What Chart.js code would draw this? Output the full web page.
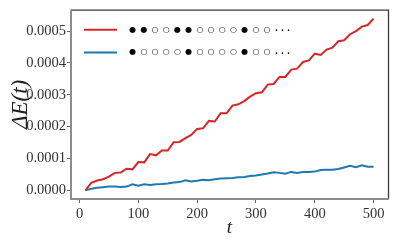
<!DOCTYPE html>
<html>
<head>
<meta charset="utf-8">
<script src="https://cdn.jsdelivr.net/npm/chart.js@4/dist/chart.umd.min.js"></script>
<style>
html,body{margin:0;padding:0;background:#fff;}
#wrap{width:395px;height:243px;}
</style>
</head>
<body>
<div id="wrap"><canvas id="c" width="395" height="243"></canvas></div>
<script>
const tValues = [10,20,30,40,50,60,70,80,90,100,110,120,130,140,150,160,170,180,190,200,
  210,220,230,240,250,260,270,280,290,300,310,320,330,340,350,360,370,380,390,400,
  410,420,430,440,450,460,470,480,490,500];
const redValues = [0,2.4e-5,3.1e-5,3.5e-5,4.3e-5,5.5e-5,5.6e-5,6.8e-5,6.6e-5,8.9e-5,
  8.8e-5,1.14e-4,1.10e-4,1.25e-4,1.25e-4,1.51e-4,1.52e-4,1.64e-4,1.74e-4,1.93e-4,
  1.95e-4,2.18e-4,2.16e-4,2.42e-4,2.42e-4,2.66e-4,2.70e-4,2.80e-4,2.94e-4,3.05e-4,
  3.08e-4,3.32e-4,3.34e-4,3.56e-4,3.56e-4,3.79e-4,3.82e-4,4.03e-4,4.08e-4,4.29e-4,
  4.25e-4,4.42e-4,4.48e-4,4.68e-4,4.71e-4,4.90e-4,5.00e-4,5.14e-4,5.19e-4,5.39e-4];
const blueValues = [0,0.5e-5,0.8e-5,1.0e-5,1.2e-5,1.2e-5,1.1e-5,1.2e-5,1.9e-5,1.5e-5,
  1.9e-5,1.7e-5,1.9e-5,2.0e-5,2.2e-5,2.5e-5,2.6e-5,3.2e-5,2.8e-5,3.0e-5,
  3.3e-5,3.2e-5,3.5e-5,3.7e-5,3.8e-5,3.9e-5,4.1e-5,4.2e-5,4.5e-5,4.7e-5,
  5.0e-5,5.3e-5,5.7e-5,5.5e-5,5.2e-5,5.8e-5,5.5e-5,5.8e-5,5.8e-5,5.9e-5,
  6.4e-5,6.5e-5,6.5e-5,6.7e-5,7.2e-5,7.7e-5,7.3e-5,7.9e-5,7.4e-5,7.4e-5];
const seriesLabels = ['●●○○●●○○○○●○○...', '●○○○○●○○○○●○○...'];
const xTicks = [0,100,200,300,400,500];
const yTicks = [0,0.0001,0.0002,0.0003,0.0004,0.0005];

const serif = "'Liberation Serif', 'DejaVu Serif', serif";

const framePlugin = {
  id: 'frame',
  afterDraw(chart) {
    const {ctx, chartArea: a} = chart;
    ctx.save();
    ctx.strokeStyle = '#3a3a3a';
    ctx.lineWidth = 1.3;
    ctx.beginPath();
    ctx.moveTo(a.left, a.top + 0.5); ctx.lineTo(a.right + 0.5, a.top + 0.5);
    ctx.lineTo(a.right + 0.5, a.bottom);
    ctx.stroke();
    ctx.strokeStyle = '#8c8c8c';
    ctx.lineWidth = 2;
    ctx.beginPath();
    ctx.moveTo(a.left, a.top); ctx.lineTo(a.left, a.bottom); ctx.lineTo(a.right + 1, a.bottom);
    ctx.stroke();
    ctx.restore();
  }
};

const legendPlugin = {
  id: 'customLegend',
  afterDraw(chart) {
    const {ctx, chartArea: a} = chart;
    ctx.save();
    chart.data.datasets.forEach((ds, i) => {
      const y = a.top + 20 + i * 22.7;
      ctx.strokeStyle = ds.borderColor;
      ctx.lineWidth = 2;
      ctx.beginPath();
      ctx.moveTo(a.left + 13, y); ctx.lineTo(a.left + 46, y);
      ctx.stroke();
      ctx.fillStyle = '#000';
      ctx.textAlign = 'center';
      ctx.textBaseline = 'middle';
      let x = a.left + 61.7;
      let prevDot = false;
      for (const ch of ds.label) {
        if (ch === '.') {
          x += prevDot ? 6 : -1.7;
          ctx.font = "14px " + serif;
          ctx.fillText(ch, x, y - 2);
          prevDot = true;
          continue;
        }
        ctx.font = "8px 'DejaVu Sans'";
        ctx.fillText(ch, x, y);
        x += 11.2;
      }
    });
    ctx.restore();
  }
};

new Chart(document.getElementById('c'), {
  type: 'line',
  data: {
    datasets: [
      { label: seriesLabels[0], data: tValues.map((t, i) => ({x: t, y: redValues[i]})),
        borderColor: '#d62728', borderWidth: 2, pointRadius: 0, tension: 0, fill: false },
      { label: seriesLabels[1], data: tValues.map((t, i) => ({x: t, y: blueValues[i]})),
        borderColor: '#1f77b4', borderWidth: 2, pointRadius: 0, tension: 0, fill: false }
    ]
  },
  options: {
    responsive: false,
    animation: false,
    devicePixelRatio: 1,
    layout: { padding: { top: 7, right: 7, left: 0, bottom: 0 } },
    plugins: { legend: { display: false }, tooltip: { enabled: false } },
    scales: {
      x: {
        type: 'linear', min: -14.5, max: 524.5,
        afterBuildTicks: s => { s.ticks = xTicks.map(v => ({value: v})); },
        afterFit: s => { s.height = 44; },
        grid: { drawOnChartArea: false, drawTicks: true, tickLength: 4, tickColor: '#666', tickWidth: 1 },
        border: { display: false },
        ticks: { color: '#333', padding: 2, font: { family: serif, size: 14.5 }, maxRotation: 0,
                 callback: v => String(v) },
        title: { display: true, text: 't', color: '#222', padding: { top: 0, bottom: 4 },
                 font: { family: serif, size: 19, style: 'italic' } }
      },
      y: {
        type: 'linear', min: -0.000027, max: 0.000567,
        afterBuildTicks: s => { s.ticks = yTicks.map(v => ({value: v})); },
        afterFit: s => { s.width = 71; },
        grid: { drawOnChartArea: false, drawTicks: true, tickLength: 4, tickColor: '#666', tickWidth: 1 },
        border: { display: false },
        ticks: { color: '#333', padding: 1, font: { family: serif, size: 14.5 },
                 callback: v => Number(v).toFixed(4) },
        title: { display: true, text: 'ΔE(t)', color: '#222', padding: { top: 7, bottom: 0 },
                 font: { family: serif, size: 23, style: 'italic' } }
      }
    }
  },
  plugins: [framePlugin, legendPlugin]
});
</script>
</body>
</html>
